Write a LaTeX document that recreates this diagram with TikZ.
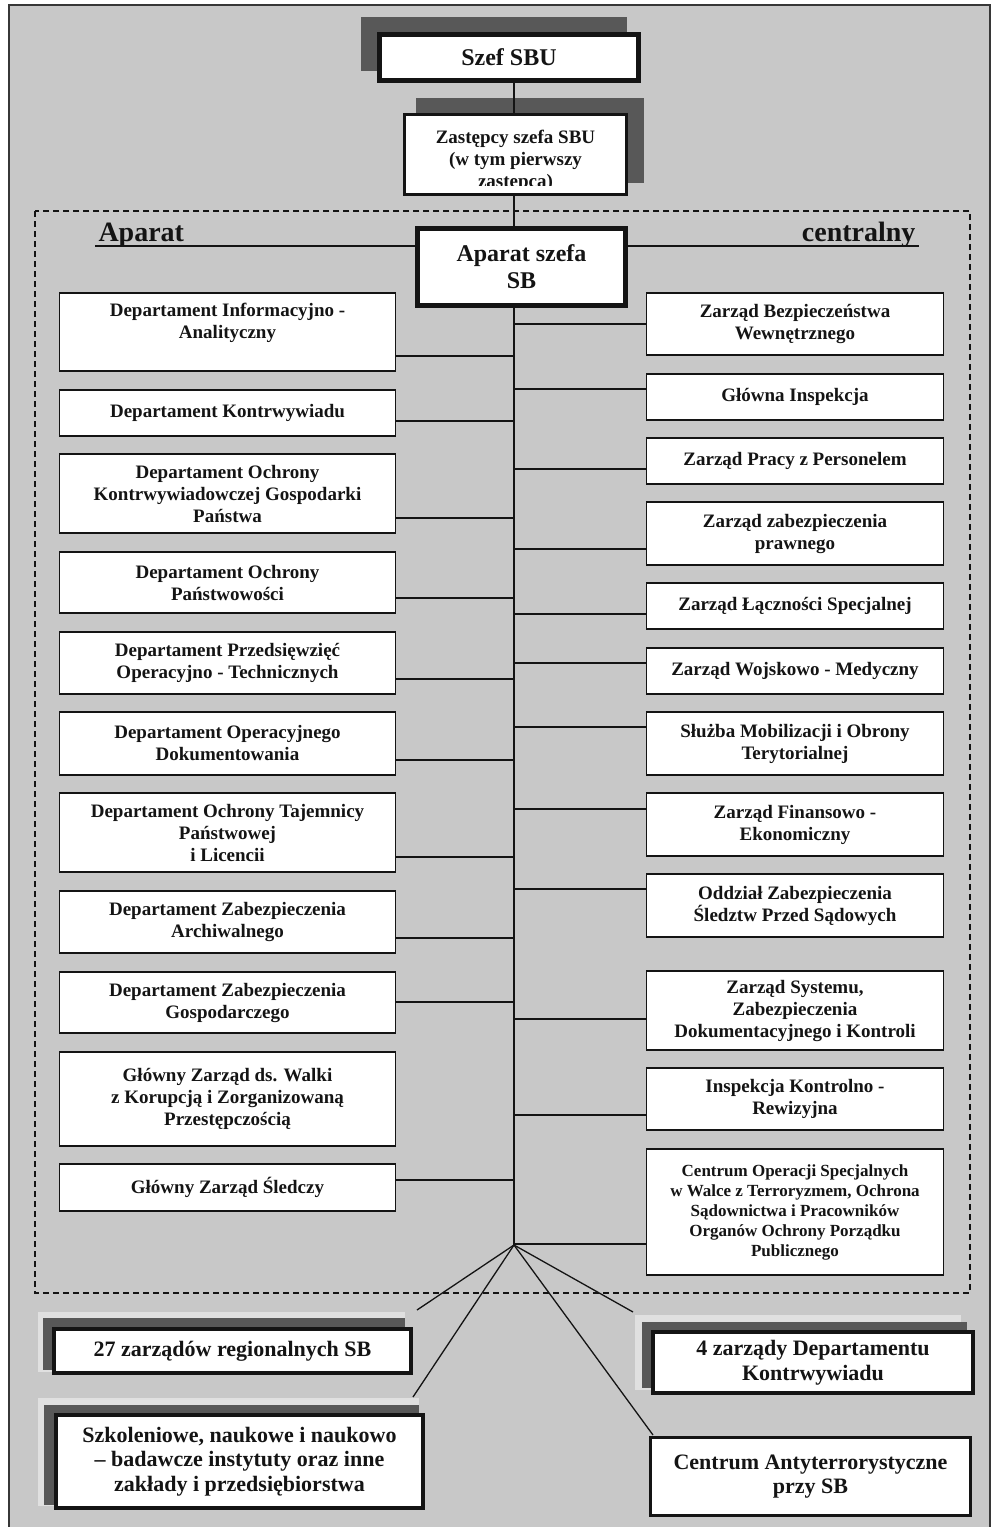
\documentclass[tikz,border=0pt]{standalone}
\usepackage{fontspec}
\setmainfont{Liberation Serif}
\definecolor{bg}{RGB}{200,200,200}
\definecolor{darkshade}{RGB}{88,88,88}
\definecolor{halo}{RGB}{224,224,224}
\definecolor{ink}{RGB}{20,20,20}

\begin{document}
\begin{tikzpicture}[x=1pt,y=-1pt,
    unitbox/.style={draw=ink,fill=white,line width=1.5pt,align=center,inner sep=0pt,text=ink,
        font=\bfseries\fontsize{19}{22}\selectfont},
    lbox/.style={unitbox,minimum width=336pt},
    rbox/.style={unitbox,minimum width=297pt},
    bigbox/.style={unitbox,line width=4pt,font=\bfseries\fontsize{22}{24.5}\selectfont},
    conn/.style={draw=ink,line width=1.3pt}]

    \useasboundingbox (0,0) rectangle (992,1527);
    \fill[white] (0,0) rectangle (992,1527);
    \draw[fill=bg,draw=ink!85,line width=1.5pt] (9,5) rectangle (990,1545);
    \draw[ink,line width=1.3pt,dash pattern=on 6pt off 4pt] (35,211) rectangle (970,1293);

% shadows
\fill[darkshade] (361,17) rectangle (627,71);
\fill[darkshade] (416,98) rectangle (644,183);
\fill[halo] (38,1312) rectangle (405,1372);
\fill[darkshade] (43,1318) rectangle (405,1370);
\fill[halo] (38,1398) rectangle (419,1506);
\fill[darkshade] (44,1405) rectangle (419,1505);
\fill[halo] (635,1315) rectangle (961,1390);
\fill[darkshade] (642,1322) rectangle (967,1388);

% top of the chart
\node[unitbox,line width=4.5pt,minimum width=259pt,minimum height=46pt,
    font=\bfseries\fontsize{24}{27}\selectfont] (szef) at (509,57.5) {Szef SBU};
\node[unitbox,line width=3pt,minimum width=222pt,minimum height=80pt] (zast) at (515.5,154.5) {};
\begin{scope}
    \clip (405,115) rectangle (626,185.5);
    \node[anchor=north,align=center,inner sep=0pt,text=ink,font=\bfseries\fontsize{19}{22}\selectfont]
        (zastt) at (515.5,130) {Zastępcy szefa SBU\\(w tym pierwszy\\zastępca)};
\end{scope}
\node[unitbox,line width=5pt,minimum width=208pt,minimum height=77pt,
    font=\bfseries\fontsize{24}{27}\selectfont] (ap) at (521.5,267) {Aparat szefa\\SB};

\node[anchor=base west,text=ink,font=\bfseries\fontsize{28}{30}\selectfont] (hl) at (95,241) {Aparat};
\node[anchor=base east,text=ink,font=\bfseries\fontsize{28}{30}\selectfont] (hr) at (919,241) {centralny};

% left column
\node[lbox,minimum height=78pt] (d1) at (227.5,332) {Departament Informacyjno -\\Analityczny\\\mbox{}};
\node[lbox,minimum height=46pt] (d2) at (227.5,413) {Departament Kontrwywiadu};
\node[lbox,minimum height=79pt] (d3) at (227.5,493.5) {Departament Ochrony\\Kontrwywiadowczej Gospodarki\\Państwa};
\node[lbox,minimum height=61pt] (d4) at (227.5,582.5) {Departament Ochrony\\Państwowości};
\node[lbox,minimum height=62pt] (d5) at (227.5,663) {Departament Przedsięwzięć\\Operacyjno - Technicznych};
\node[lbox,minimum height=63pt] (d6) at (227.5,743.5) {Departament Operacyjnego\\Dokumentowania};
\node[lbox,minimum height=79pt] (d7) at (227.5,832.5) {Departament Ochrony Tajemnicy\\Państwowej\\i Licencii};
\node[lbox,minimum height=62pt] (d8) at (227.5,922) {Departament Zabezpieczenia\\Archiwalnego};
\node[lbox,minimum height=61pt] (d9) at (227.5,1002.5) {Departament Zabezpieczenia\\Gospodarczego};
\node[lbox,minimum height=94pt] (d10) at (227.5,1099) {Główny Zarząd ds. Walki\\z Korupcją i Zorganizowaną\\Przestępczością};
\node[lbox,minimum height=47pt] (d11) at (227.5,1187.5) {Główny Zarząd Śledczy};

% right column
\node[rbox,minimum height=62pt] (z1) at (795,324) {Zarząd Bezpieczeństwa\\Wewnętrznego};
\node[rbox,minimum height=46pt] (z2) at (795,397) {Główna Inspekcja};
\node[rbox,minimum height=46pt] (z3) at (795,461) {Zarząd Pracy z Personelem};
\node[rbox,minimum height=63pt] (z4) at (795,533.5) {Zarząd zabezpieczenia\\prawnego};
\node[rbox,minimum height=46pt] (z5) at (795,606) {Zarząd Łączności Specjalnej};
\node[rbox,minimum height=46pt] (z6) at (795,671) {Zarząd Wojskowo - Medyczny};
\node[rbox,minimum height=63pt] (z7) at (795,743.5) {Służba Mobilizacji i Obrony\\Terytorialnej};
\node[rbox,minimum height=63pt] (z8) at (795,824.5) {Zarząd Finansowo -\\Ekonomiczny};
\node[rbox,minimum height=63pt] (z9) at (795,905.5) {Oddział Zabezpieczenia\\Śledztw Przed Sądowych};
\node[rbox,minimum height=79pt] (z10) at (795,1010.5) {Zarząd Systemu,\\Zabezpieczenia\\Dokumentacyjnego i Kontroli};
\node[rbox,minimum height=62pt] (z11) at (795,1099) {Inspekcja Kontrolno -\\Rewizyjna};
\node[rbox,minimum height=126pt,font=\bfseries\fontsize{17}{20}\selectfont] (z12) at (795,1212)
    {Centrum Operacji Specjalnych\\w Walce z Terroryzmem, Ochrona\\Sądownictwa i Pracowników\\Organów Ochrony Porządku\\Publicznego};

% outside the central apparatus
\node[bigbox,minimum width=357pt,minimum height=44pt] (reg) at (232.5,1351) {27 zarządów regionalnych SB};
\node[bigbox,minimum width=367pt,minimum height=93pt] (szk) at (239.5,1461.5)
    {Szkoleniowe, naukowe i naukowo\\– badawcze instytuty oraz inne\\zakłady i przedsiębiorstwa};
\node[bigbox,minimum width=320pt,minimum height=61pt] (dep4) at (813,1362.5) {4 zarządy Departamentu\\Kontrwywiadu};
\node[bigbox,line width=3.5pt,minimum width=320pt,minimum height=78pt] (anty) at (810.5,1476.5) {Centrum Antyterrorystyczne\\przy SB};

\coordinate (fan) at (514,1245);
\coordinate (e1) at (417,1310);
\coordinate (e2) at (413,1397);
\coordinate (e3) at (633,1312);
\coordinate (e4) at (653,1435);

% connectors
\draw[conn] (fan |- szef.south) -- (fan |- zast.north);
\draw[conn] (fan |- zast.south) -- (fan |- ap.north);
\draw[conn] (fan |- ap.south) -- (fan);
\draw[conn] (hl.base west |- 0,246) -- (ap.west |- 0,246);
\draw[conn] (ap.east |- 0,246) -- (hr.base east |- 0,246);
\foreach \n/\y in {d1/356,d2/421,d3/518,d4/598,d5/679,d6/760,d7/857,d8/938,d9/1002,d11/1180}
    \draw[conn] (\n.east |- 0,\y) -- (fan |- 0,\y);
\foreach \n/\y in {z1/324,z2/389,z3/469,z4/549,z5/614,z6/663,z7/727,z8/809,z9/889,z10/1019,z11/1115,z12/1244}
    \draw[conn] (fan |- 0,\y) -- (\n.west |- 0,\y);
\foreach \e in {e1,e2,e3,e4} \draw[conn] (fan) -- (\e);
\end{tikzpicture}
\end{document}
